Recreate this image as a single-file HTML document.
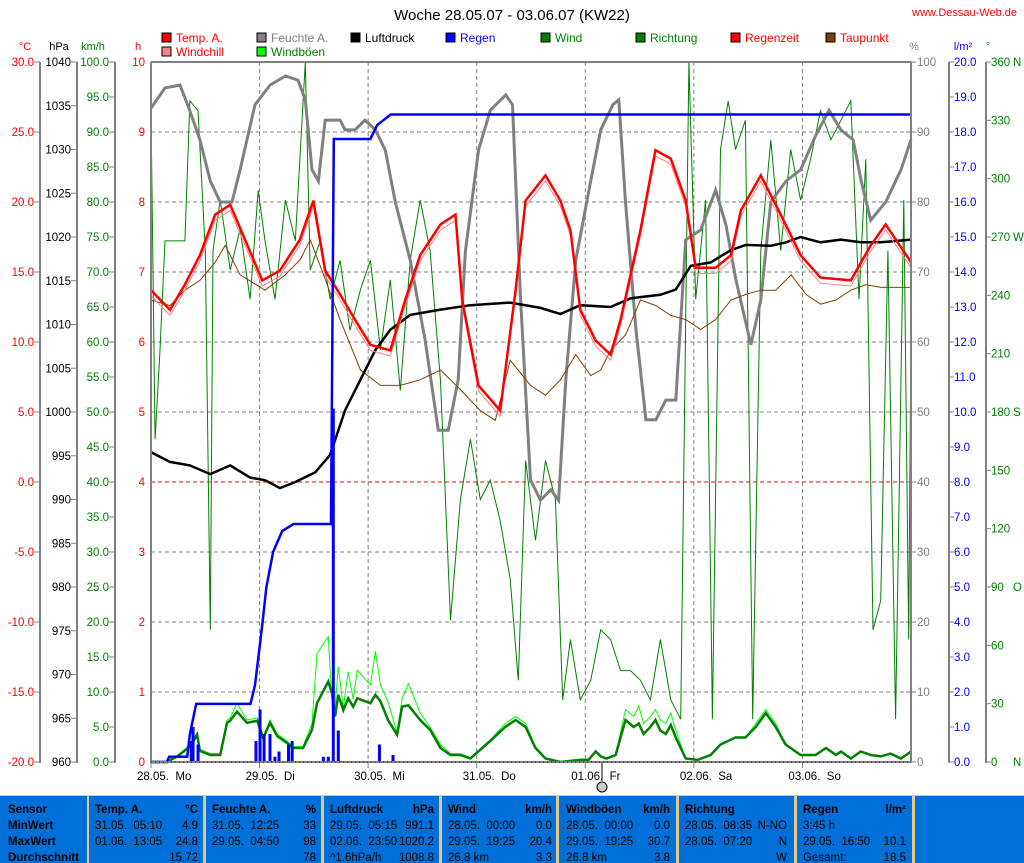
<!DOCTYPE html>
<html><head><meta charset="utf-8"><title>Woche KW22</title>
<style>
html,body{margin:0;padding:0;background:#fff;}
svg{display:block;font-family:"Liberation Sans",sans-serif;}
text{white-space:pre;}
</style></head>
<body>
<svg id="chart" width="1024" height="863" viewBox="0 0 1024 863" xmlns="http://www.w3.org/2000/svg">
<g id="static"></g>
</svg>
<script>
// ---- data (hours since 28.05. 00:00) ----
const tempHours=[0,4.2,7.5,10.8,14.2,17.5,20.8,24.6,28.5,32.9,35.9,38.5,41.8,45.1,48.5,52.9,56.2,59.5,64,67.3,68.8,72.4,77.2,80.6,82.8,87.2,90.5,92.7,94.9,98.3,101.6,103.8,108.2,111.5,114.9,118.2,120.4,124.8,128.2,130.4,134.8,139.2,143.6,148,154.7,159.1,162.4,168];
const tempValues=[13.7,12.3,14.1,16.2,19.1,19.8,17.3,14.4,15.1,17.3,20.1,15.1,13.4,11.6,9.8,9.4,13.0,16.2,18.4,19.1,13.0,6.9,5.1,13.7,20.1,21.9,20.1,18.0,12.3,10.1,9.1,11.6,18.0,23.7,23.1,20.1,15.3,15.3,16.2,19.4,21.9,19.1,16.2,14.6,14.4,16.9,18.4,15.7];
const humHours=[0,3.1,6.4,8.6,10.8,13.1,15.3,17.9,19.7,23,26.3,29.7,32.5,34.1,35.6,37,38.5,41.8,42.9,45.1,47.3,49.6,51.8,54,57.3,60.6,63.5,65.7,67.9,69.5,72.4,75,78.4,79.9,81.7,83.9,86.1,88.4,90.1,91.7,93.9,97.2,99.4,102.1,103.4,104.9,107.2,109.4,111.6,113.8,116,118.2,121.5,124.8,127.1,129.3,132.6,134.8,137,140.4,143.6,147,149.9,152.5,155.2,157,159.1,162.4,165.8,168];
const humValues=[93.4,96.3,96.7,93,88.9,83,80,80,84.6,93.9,96.7,98,97.4,94.6,84.6,83,91.7,91.7,90.3,90.3,91.7,90.3,87.4,80,71.7,60.3,47.4,47.4,54.6,73,87.4,93.1,95.3,93.9,66,40.3,37.4,38.9,37.4,54.6,71.7,83,90.3,93.9,94.6,80,61.7,48.9,48.9,51.7,51.7,74.6,76,81.7,76.7,68.9,59.6,66,80,83,84.6,89.6,93.1,90.3,88.9,83,77.4,80,84.6,88.9];
const presHours=[0,4.2,8.6,13.1,17.5,21.9,25.2,28.5,31.9,36.3,39.6,42.9,46.3,49.6,52.9,57.3,64,70.6,79.4,86.1,90.5,94.9,101.6,106,112.6,116,119.3,123.7,128.2,131.5,137,140.4,143.6,148,152.5,156.9,161.3,168];
const presValues=[995.4,994.3,993.9,992.9,993.9,992.5,992.2,991.3,992,993.1,995.1,1000.2,1003.7,1007.1,1009.4,1011.1,1011.7,1012.2,1012.5,1011.9,1011.2,1012.2,1012,1013,1013.4,1014,1016.7,1017.1,1018.5,1019.1,1019,1019.4,1020,1019.4,1019.7,1019.4,1019.4,1019.7];
const dewHours=[0,4.2,7.5,10.8,14.2,16.4,19.7,25.2,29.7,33,35.2,37.8,41.8,46.3,50.7,55.1,59.5,64,68.4,72.8,76.1,79.4,83.9,87.2,90.5,93.9,97.2,99.4,101.6,104.9,108.2,111.6,114.9,118.2,121.5,124.8,128.2,131.5,134.8,138.1,141.5,144.8,148,151.4,154.7,158,161.3,168];
const dewValues=[13,12.6,13.7,14.4,15.7,16.9,14.8,13.7,14.8,15.9,17.3,15.1,11.6,8,6.9,6.9,7.3,8,6.6,5.1,4.4,8.7,6.9,6.2,7.3,9.1,7.6,8,9.4,10.5,13,12.6,11.9,11.6,10.9,11.6,13,13.4,13.7,13.7,14.8,13.4,12.7,13,13.7,14.1,13.9,13.9];
const rainHours=[0,3.5,4,8,8.6,10,22,23,24.5,25.5,27,29,31.5,39.8,40.4,48.5,50,53,168];
const rainValues=[0,0,0.15,0.15,0.8,1.66,1.66,2.2,3.8,5.0,6.0,6.6,6.8,6.8,17.8,17.8,18.2,18.5,18.5];
const rainBarHours=[8.9,9.3,10.4,23.2,24.1,25.0,26.3,27.4,28.3,30.4,31.2,38.1,39.2,40.3,41.4,50.5,53.5];
const rainBarValues=[0.6,1.0,0.5,0.6,1.5,0.8,0.8,0.15,0.3,0.5,0.6,0.15,0.15,10.1,0.9,0.5,0.2];
const windHours=[0,3.5,5.8,8.6,10.2,10.8,13.1,15.3,16.8,17.5,19,21.2,23.5,24.8,26.3,27.9,30.1,31.4,33.6,35.6,36.7,39.2,40.1,40.7,41.4,42.5,43.6,44.7,45.6,48.5,49.6,50.7,52.4,54.4,55.5,56.9,59.5,61.7,64,66.2,68.4,70.6,75,78.3,80.6,82.8,85,87.2,90.5,94.9,96.7,98.3,99.4,100.7,102.7,104.9,106.7,107.8,108.9,110.4,111.5,112.6,113.8,114.9,116,117.1,118.2,120.8,123.7,125.9,129.2,131.4,133.7,135.9,138.1,140.3,143.6,146.9,149.2,151.4,152.5,154.7,156.9,159.1,161.3,163.5,165.8,168];
const windValues=[0,0,0.8,2.2,3.9,1.6,1,1,5.6,5.9,7.2,5.6,5.9,3.4,5.6,3.7,2.7,2,2,4.6,8.4,11.5,9.6,6.5,9.6,7.4,9.1,7.9,9.1,8.4,9.6,8.7,6,3.9,7.9,8.1,6,4.6,2,1,1,0.5,3,5,6,5,2,0.5,0,0.3,0.3,1.5,0.8,0.5,1,6,5,5.5,4,5,6,4.5,4,5.3,3.5,2,0.5,0.3,1,2.5,3.5,3.5,5,7,5,2.5,1,1,2,1,1.5,0.5,1.5,1,0.8,1.2,0.5,1.5];
const gustValues=[0,0,0.8,2.5,4.2,1.8,1.2,1.2,6,6.3,8.4,6,6.3,3.6,6,4,3,2.2,2.2,5.5,15.5,17.9,7.4,8,13.6,7.8,12.9,9,13.1,11,15.8,11,8.6,4.2,9,11.2,7,5,2.5,1.2,1.2,0.6,3.2,5.5,6.5,5.5,2.2,0.6,0,0.4,0.3,1.5,0.8,0.5,1,7.5,6.5,8,5.5,6.5,7.5,6,5.5,7,4.5,2.5,0.5,0.3,1,2.5,3.5,3.5,5.5,7.5,5.5,2.5,1,1,2,1,1.5,0.5,1.5,1,0.8,1.2,0.5,1.5];
const dirHours=[0,0.9,2,3.1,5.3,7.5,8.6,10.4,12,13.1,13.7,15.3,17.5,19.7,21.9,23.7,25.2,27.4,29.7,31.9,34.1,35.2,37.4,39.6,41.8,44,46.3,48.5,50.7,52.9,55.1,57.3,59.5,61.7,64,66.2,68.4,70.6,72.8,75,77.2,79.4,81.2,82.8,85,87.2,89.4,91,92.7,94.9,97.2,99.4,101.6,103.8,106,108.2,110.4,112.6,114.9,117.1,118.9,120.4,122.6,124.1,125.9,127.6,129.2,131.4,133,134.8,137,139.2,141.4,143.6,145.8,148,150.3,152.5,154.7,156.5,158,159.6,161.3,162.9,164.6,166.4,167.5,168];
const dirValues=[335,166,212,268,268,268,340,335,263,68,263,289,253,274,238,294,268,238,289,268,360,253,268,238,258,222,243,258,212,248,191,258,289,263,196,73,135,166,135,145,124,94,42,155,114,155,135,32,63,32,42,68,63,47,47,42,32,63,32,22,360,238,289,22,315,340,315,330,22,263,320,263,315,289,310,335,320,330,340,238,310,68,83,263,22,289,63,227];
const dayLabels=["28.05.  Mo","29.05.  Di","30.05.  Mi","31.05.  Do","01.06.  Fr","02.06.  Sa","03.06.  So"];
const tempTicks=[30,25,20,15,10,5,0,-5,-10,-15,-20];
const presTicks=[1040,1035,1030,1025,1020,1015,1010,1005,1000,995,990,985,980,975,970,965,960];
const kmhTicks=[100,95,90,85,80,75,70,65,60,55,50,45,40,35,30,25,20,15,10,5,0];
const hTicks=[10,9,8,7,6,5,4,3,2,1,0];
const humTicks=[100,90,80,70,60,50,40,30,20,10,0];
const rainTicks=[20,19,18,17,16,15,14,13,12,11,10,9,8,7,6,5,4,3,2,1,0];
const dirTicks=[360,330,300,270,240,210,180,150,120,90,60,30,0];
const dirNames={360:"N",270:"W",180:"S",90:"O",0:"N"};

// ---- scales ----
const X0=151,X1=911,Y0=62,Y1=762;
const xH=h=>X0+h/168*(X1-X0);
const yT=t=>Y0+(30-t)/50*(Y1-Y0);
const yP=p=>Y0+(1040-p)/80*(Y1-Y0);
const yK=w=>Y0+(100-w)/100*(Y1-Y0);
const yHr=v=>Y0+(10-v)/10*(Y1-Y0);
const yHum=v=>Y0+(100-v)/100*(Y1-Y0);
const yR=r=>Y0+(20-r)/20*(Y1-Y0);
const yD=d=>Y0+(360-d)/360*(Y1-Y0);

const FS=11;
const NS="http://www.w3.org/2000/svg";
const svg=document.getElementById('chart');
function mk(tag,attrs,parent){const e=document.createElementNS(NS,tag);for(const k in attrs)e.setAttribute(k,attrs[k]);(parent||svg).appendChild(e);return e;}
function txt(s,x,y,fill,size,anchor,weight){const e=mk('text',{x:x,y:y,fill:fill,'font-size':size||FS,'text-anchor':anchor||'start','font-weight':weight||'normal'});e.textContent=s;return e;}

let t=txt("Woche 28.05.07 - 03.06.07 (KW22)",512,20,"#000",15,"middle");


t=txt("www.Dessau-Web.de",1017,16,"#f00",11,"end");



const legend=[["Temp. A.","#f00","#f00",162,42],["Feuchte A.","#808080","#808080",257,42],["Luftdruck","#000","#000",351,42],["Regen","#00f","#00f",446,42],["Wind","#008000","#008000",541,42],["Richtung","#008000","#008000",636,42],["Regenzeit","#f00","#f00",731,42],["Taupunkt","#804000","#f00",826,42],["Windchill","#ff8080","#f00",162,56],["Windböen","#00ff00","#008000",257,56]];
legend.forEach(l=>{
  const g=mk('g',{});
  
  
  mk('rect',{x:l[3],y:l[4]-9,width:9,height:9,fill:l[1],stroke:'#000','stroke-width':1},g);
  const e=mk('text',{x:l[3]+14,y:l[4],fill:l[2],'font-size':12},g);e.textContent=l[0];
});

[["°C",25,"#f00"],["hPa",59,"#000"],["km/h",93,"#008000"],["h",138,"#f00"],["%",914,"#808080"],["l/m²",963,"#00f"],["°",988,"#008000"]].forEach(u=>{
  const e=txt(u[0],u[1],50,u[2],11,"middle");
  
  
});

const grid=mk('g',{});


hTicks.forEach(v=>{if(v>0&&v<10)mk('line',{x1:X0,x2:X1,y1:yHr(v),y2:yHr(v),stroke:'#808080','stroke-dasharray':'4,3','stroke-width':1},grid);});
for(let d=1;d<7;d++)mk('line',{x1:xH(d*24),x2:xH(d*24),y1:Y0,y2:Y1,stroke:'#808080','stroke-dasharray':'4,3','stroke-width':1},grid);
mk('line',{x1:X0,x2:X1,y1:yT(0),y2:yT(0),stroke:'#f00','stroke-dasharray':'4,3','stroke-width':1},grid);

function vAxis(name,xLine,ticks,yf,fmt,color,tickDir){
  const g=mk('g',{});
  
  
  mk('line',{x1:xLine,x2:xLine,y1:Y0,y2:Y1+1,stroke:'#808080','stroke-width':2},g);
  ticks.forEach(v=>{const y=yf(v);
    if(tickDir<0){mk('line',{x1:xLine-6,x2:xLine,y1:y,y2:y,stroke:'#808080'},g);
      const e=mk('text',{x:xLine-6,y:y+4,fill:color,'font-size':FS+0.5,'text-anchor':'end'},g);e.textContent=fmt(v);}
    else{mk('line',{x1:xLine,x2:xLine+5,y1:y,y2:y,stroke:'#808080'},g);
      const e=mk('text',{x:xLine+5,y:y+4,fill:color,'font-size':FS+0.5},g);e.textContent=fmt(v);}
  });
}
vAxis('temperature-axis',40,tempTicks,yT,v=>v.toFixed(1),'#f00',-1);
vAxis('pressure-axis',77,presTicks,yP,v=>String(v),'#000',-1);
vAxis('windspeed-axis',115,kmhTicks,yK,v=>v.toFixed(1),'#008000',-1);
const hg=mk('g',{});


hTicks.forEach(v=>{const e=mk('text',{x:145,y:yHr(v)+4,fill:'#f00','font-size':FS+0.5,'text-anchor':'end'},hg);e.textContent=String(v);});
const hum=mk('g',{});


humTicks.forEach(v=>{mk('line',{x1:906,x2:916,y1:yHum(v),y2:yHum(v),stroke:'#808080'},hum);const e=mk('text',{x:917,y:yHum(v)+4,fill:'#808080','font-size':FS+0.5},hum);e.textContent=String(v);});
vAxis('rain-axis',949,rainTicks,yR,v=>v.toFixed(1),'#00f',1);
vAxis('direction-axis',986,dirTicks,yD,v=>String(v),'#008000',1);
const dn=mk('g',{});


dirTicks.forEach(v=>{if(dirNames[v]!==undefined){const e=mk('text',{x:1013,y:yD(v)+4,fill:'#008000','font-size':FS+0.5},dn);e.textContent=dirNames[v];}});

const xg=mk('g',{});


dayLabels.forEach((s,i)=>{const x=xH(i*24);mk('line',{x1:x,x2:x,y1:Y1,y2:Y1+6,stroke:'#808080'},xg);const e=mk('text',{x:x-14,y:780,fill:'#000','font-size':FS+0.5},xg);e.textContent=s;});
mk('line',{x1:602,x2:602,y1:762,y2:781,stroke:'#000'});
const moon=mk('circle',{cx:602,cy:787,r:5,fill:'#ccc',stroke:'#000','stroke-width':1});



function pts(hs,vs,yf){return hs.map((h,i)=>xH(h).toFixed(1)+','+yf(vs[i]).toFixed(1)).join(' ');}
let s;
s=mk('polyline',{points:pts(dirHours,dirValues,yD),fill:'none',stroke:'#008000','stroke-width':1});


s=mk('polyline',{points:pts(humHours,humValues,yHum),fill:'none',stroke:'#808080','stroke-width':3});


s=mk('polyline',{points:pts(dewHours,dewValues,yT),fill:'none',stroke:'#804000','stroke-width':1});


s=mk('polyline',{points:pts(presHours,presValues,yP),fill:'none',stroke:'#000','stroke-width':2.5});


s=mk('polyline',{points:pts(tempHours,tempValues.map(v=>v-0.4),yT),fill:'none',stroke:'#ff8080','stroke-width':1});


s=mk('polyline',{points:pts(tempHours,tempValues,yT),fill:'none',stroke:'#f00','stroke-width':2.5});


s=mk('polyline',{points:pts(windHours,gustValues,yK),fill:'none',stroke:'#00ff00','stroke-width':1});


s=mk('polyline',{points:pts(windHours,windValues,yK),fill:'none',stroke:'#008000','stroke-width':2.5});


rainBarHours.forEach((h,i)=>{
  const b=mk('rect',{x:xH(h)-1.5,y:yR(rainBarValues[i]),width:3,height:Y1-yR(rainBarValues[i]),fill:'#00f'});
  
  
});
s=mk('polyline',{points:pts(rainHours,rainValues,yR),fill:'none',stroke:'#00f','stroke-width':2.5});



const fr=mk('g',{});


mk('line',{x1:X0,x2:X1,y1:Y0,y2:Y0,stroke:'#808080','stroke-width':2},fr);
mk('line',{x1:X0,x2:X0,y1:Y0,y2:Y1+1,stroke:'#808080','stroke-width':2},fr);
mk('line',{x1:X1,x2:X1,y1:Y0,y2:Y1+1,stroke:'#808080','stroke-width':2},fr);
mk('line',{x1:X0,x2:X1,y1:Y1,y2:Y1,stroke:'#808080','stroke-width':2},fr);
mk('line',{x1:X0,x2:X1,y1:Y1,y2:Y1,stroke:'#00f','stroke-width':1,'stroke-dasharray':'1,3'},fr);

const tb=mk('g',{});


mk('rect',{x:0,y:795,width:1024,height:68,fill:'#e0c890'},tb);
const cols=[[0,87],[89,203],[206,321],[324,439],[442,556],[559,676],[679,794],[797,912],[915,1024]];
cols.forEach(c=>mk('rect',{x:c[0],y:796,width:c[1]-c[0],height:67,fill:'#0070d8'},tb));
const rowsY=[813,829,845,861];
const cells=[
 [["Sensor","MinWert","MaxWert","Durchschnitt"],8,"start",true],
 [["Temp. A.","31.05.  05:10","01.06.  13:05",""],95,"start",false],
 [["°C","4.9","24.8","15.72"],198,"end",false],
 [["Feuchte A.","31.05.  12:25","29.05.  04:50",""],212,"start",false],
 [["%","33","98","78"],316,"end",false],
 [["Luftdruck","29.05.  05:15","02.06.  23:50","^1.6hPa/h"],330,"start",false],
 [["hPa","991.1","1020.2","1008.8"],434,"end",false],
 [["Wind","28.05.  00:00","29.05.  19:25","26.8 km"],448,"start",false],
 [["km/h","0.0","20.4","3.3"],552,"end",false],
 [["Windböen","28.05.  00:00","29.05.  19:25","26.8 km"],566,"start",false],
 [["km/h","0.0","30.7","3.8"],670,"end",false],
 [["Richtung","28.05.  08:35","28.05.  07:20",""],685,"start",false],
 [["","N-NO","N","W"],787,"end",false],
 [["Regen","3:45 h","29.05.  16:50","Gesamt:"],803,"start",false],
 [["l/m²","","10.1","18.5"],906,"end",false]
];
cells.forEach(c=>{c[0].forEach((s,i)=>{if(!s)return;const e=mk('text',{x:c[1],y:rowsY[i],fill:'#000','font-size':11.5,'text-anchor':c[2],'font-weight':(i===0||c[3])?'bold':'normal'},tb);e.textContent=s;});});
</script>
</body></html>
